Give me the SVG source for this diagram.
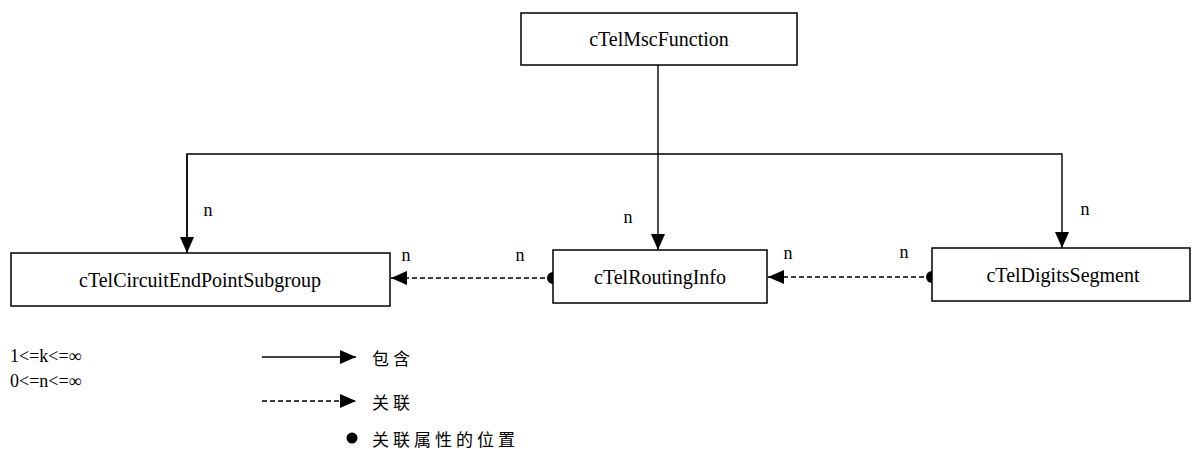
<svg xmlns="http://www.w3.org/2000/svg" width="1192" height="449" viewBox="0 0 1192 449">
<style>
.box{fill:#fff;stroke:#000;stroke-width:1.5}
.lbl{font-family:"Liberation Serif",serif;font-size:20px;fill:#000;text-anchor:middle;dominant-baseline:central}
.n{font-family:"Liberation Serif",serif;font-size:18px;fill:#000;text-anchor:middle;dominant-baseline:central}
.leg{font-family:"Liberation Serif",serif;font-size:18px;fill:#000;dominant-baseline:central}
.cjk{font-family:"Noto Sans CJK SC",sans-serif;font-size:17px;fill:#000;letter-spacing:4px;dominant-baseline:central}
.ln{fill:none;stroke:#000;stroke-width:1.4}
.dash{fill:none;stroke:#000;stroke-width:1.4;stroke-dasharray:5 3}
</style>
<defs>
<marker id="ah" markerUnits="userSpaceOnUse" markerWidth="17" markerHeight="16" viewBox="0 0 17 16" refX="16" refY="8" orient="auto">
<path d="M0,1 L16,8 L0,15 Z" fill="#000"/>
</marker>
</defs>
<g id="connectors">
<line class="ln" x1="658" y1="65" x2="658" y2="250" marker-end="url(#ah)"/>
<polyline class="ln" points="187,252 187,154 1062,154 1062,248" marker-end="url(#ah)"/>
<line class="ln" x1="187" y1="154" x2="187" y2="253" marker-end="url(#ah)"/>
<line class="dash" x1="553" y1="278" x2="391" y2="278" marker-end="url(#ah)"/>
<circle cx="553" cy="278" r="6" fill="#000"/>
<line class="dash" x1="932" y1="277" x2="768" y2="277" marker-end="url(#ah)"/>
<circle cx="932" cy="277" r="6" fill="#000"/>
</g>
<g id="cTelMscFunction">
<rect class="box" x="521" y="13" width="276" height="52"/>
<text class="lbl" x="659" y="39">cTelMscFunction</text>
</g>
<g id="cTelCircuitEndPointSubgroup">
<rect class="box" x="11" y="253" width="379" height="53"/>
<text class="lbl" x="200" y="280">cTelCircuitEndPointSubgroup</text>
</g>
<g id="cTelRoutingInfo">
<rect class="box" x="553" y="250" width="214" height="53"/>
<text class="lbl" x="660" y="277">cTelRoutingInfo</text>
</g>
<g id="cTelDigitsSegment">
<rect class="box" x="932" y="248" width="258" height="53"/>
<text class="lbl" x="1063" y="275">cTelDigitsSegment</text>
</g>
<g id="labels">
<text class="n" x="208" y="210">n</text>
<text class="n" x="628" y="217">n</text>
<text class="n" x="1085" y="209">n</text>
<text class="n" x="406" y="255">n</text>
<text class="n" x="520" y="255">n</text>
<text class="n" x="788" y="253">n</text>
<text class="n" x="904" y="252">n</text>
</g>
<g id="legend">
<text class="leg" x="10" y="356">1&lt;=k&lt;=∞</text>
<text class="leg" x="10" y="381">0&lt;=n&lt;=∞</text>
<line class="ln" x1="262" y1="357" x2="356" y2="357" marker-end="url(#ah)"/>
<text class="cjk" x="372" y="357">包含</text>
<line class="dash" x1="262" y1="401" x2="356" y2="401" marker-end="url(#ah)"/>
<text class="cjk" x="372" y="401">关联</text>
<circle cx="352" cy="438" r="5.5" fill="#000"/>
<text class="cjk" x="372" y="438">关联属性的位置</text>
</g>
</svg>
